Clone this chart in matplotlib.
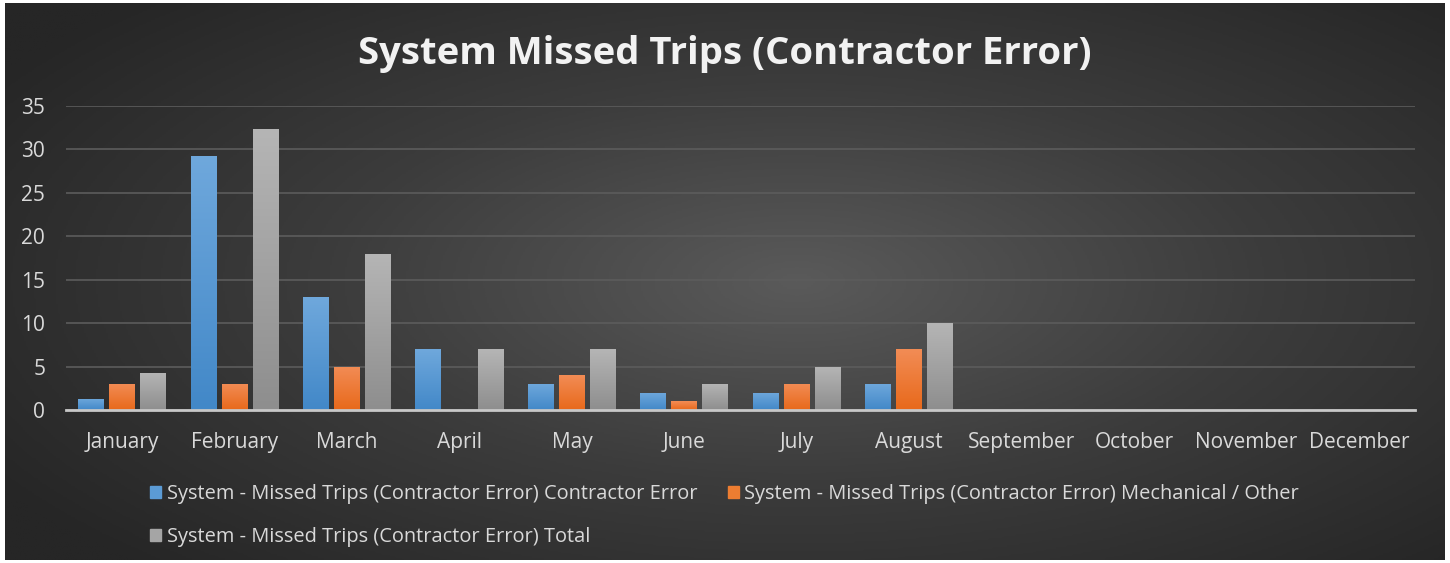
import numpy as np
import matplotlib.pyplot as plt
from matplotlib.colors import LinearSegmentedColormap
from matplotlib.patches import Patch

months = ["January", "February", "March", "April", "May", "June",
          "July", "August", "September", "October", "November", "December"]
contractor = [1.3, 29.3, 13, 7, 3, 2, 2, 3, 0, 0, 0, 0]
mechanical = [3, 3, 5, 0, 4, 1, 3, 7, 0, 0, 0, 0]
total = [4.3, 32.3, 18, 7, 7, 3, 5, 10, 0, 0, 0, 0]
labels = ["System - Missed Trips (Contractor Error) Contractor Error",
          "System - Missed Trips (Contractor Error) Mechanical / Other",
          "System - Missed Trips (Contractor Error) Total"]

plt.rcParams['font.family'] = ['Open Sans', 'DejaVu Sans']

fig = plt.figure(figsize=(14.5, 5.63), dpi=100)
fig.patch.set_facecolor('white')

# radial gradient background (dark frame)
bg = fig.add_axes([5/1450, 3/563, 1440/1450, 557/563])
yy, xx = np.mgrid[-1:1:300j, -1:1:700j]
r = np.sqrt(((xx - 0.1) / 1.0) ** 2 + (yy / 1.1) ** 2)
bgcmap = LinearSegmentedColormap.from_list('bg', ['#5a5a5a', '#3c3c3c', '#262626'])
bg.imshow(r, cmap=bgcmap, aspect='auto', vmin=0, vmax=1.3, extent=[0, 1, 0, 1])
bg.set_axis_off()

ax = fig.add_axes([66/1450, (563-410)/563, (1415-66)/1450, (410-106)/563])
ax.patch.set_alpha(0)

x = np.arange(len(months))
w = 0.231
off = 0.276
series = [
    (contractor, '#6fa8dc', '#4288c8'),
    (mechanical, '#f28c55', '#e8691b'),
    (total, '#b5b5b5', '#8e8e8e'),
]
for i, (vals, top, bot) in enumerate(series):
    bars = ax.bar(x + (i - 1) * off, vals, width=w, color=bot, zorder=3)
    cm = LinearSegmentedColormap.from_list('g%d' % i, [bot, top])
    grad = np.linspace(0, 1, 100).reshape(-1, 1)
    for b in bars:
        h = b.get_height()
        if h <= 0:
            continue
        im = ax.imshow(grad, cmap=cm, aspect='auto', origin='lower',
                       extent=[b.get_x(), b.get_x() + b.get_width(), 0, h], zorder=4)
        im.set_clip_path(b)

ax.set_xlim(-0.5, 11.5)
ax.set_ylim(0, 35)
ax.set_yticks(range(0, 36, 5))
ax.set_xticks(x)
ax.set_xticklabels(months)
ax.grid(axis='y', color='#5c5c5c', linewidth=1.2, zorder=0)
for s in ['top', 'right', 'left']:
    ax.spines[s].set_visible(False)
ax.spines['bottom'].set_color('#c8c8c8')
ax.spines['bottom'].set_linewidth(2)
ax.spines['bottom'].set_zorder(5)
ax.tick_params(axis='both', length=0, colors='#d9d9d9', labelsize=15)
ax.tick_params(axis='x', pad=16)
ax.tick_params(axis='y', pad=15)

fig.text(0.5, 1 - 54/563, "System Missed Trips (Contractor Error)", ha='center', va='center',
         color='#f2f2f2', fontsize=27.5, fontweight='bold')

handles = [Patch(color='#5b9bd5'), Patch(color='#ed7d31'), Patch(color='#a5a5a5')]
leg = fig.legend([handles[0], handles[2], handles[1]], [labels[0], labels[2], labels[1]],
                 ncol=2, loc='upper left', bbox_to_anchor=(132/1450, 1 - 466/563),
                 frameon=False, fontsize=14.4, labelcolor='#d9d9d9',
                 handlelength=0.55, handleheight=0.55, handletextpad=0.3,
                 columnspacing=1.5, labelspacing=1.15)

fig.savefig('out.png', dpi=100, facecolor=fig.get_facecolor())
